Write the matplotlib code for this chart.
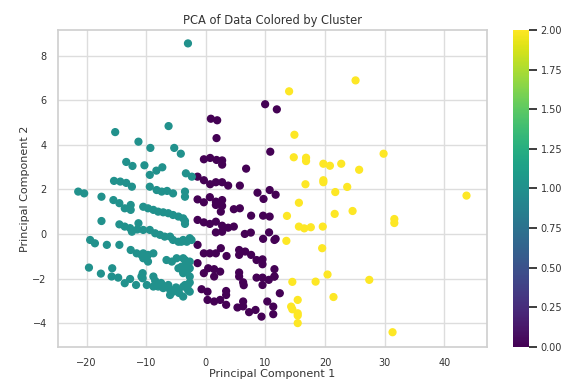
import numpy as np
import matplotlib
matplotlib.use("Agg")
import matplotlib.pyplot as plt
import seaborn as sns

# cluster 1 (teal)
teal_x = [-3.0, -15.2, -6.25, -11.3, -9.3, -5.3, -4.2, -13.35, -12.3, -10.3, -7.3, -8.3, -9.4, -3.35, -2.35,
          -15.4, -14.35, -13.35, -12.4, -9.4, -8.25, -7.4, -6.5, -5.5, -3.5, -3.5,
          -21.4, -20.4, -17.5, -15.5, -14.5, -13.6, -12.6, -12.6,
          -10.5, -9.7, -8.8, -8.0, -7.15, -6.3, -5.5, -4.6, -3.8, -3.5, -3.5,
          -17.5, -14.5, -13.6, -12.7, -12.4, -11.3, -11.5, -10.5, -9.4, -8.5, -7.7, -6.9, -6.0, -5.5, -4.6, -3.8, -2.7, -4.1, -3.2, -2.4,
          -19.4, -18.6, -16.6, -14.5,
          -12.6, -11.6, -10.8, -9.9, -10.5, -9.7, -8.8, -10.5, -9.7, -6.6, -5.7, -4.9, -3.8, -3.2, -4.1, -4.6, -3.8, -3.0, -2.7,
          -3.5, -2.7, -3.5, -2.7, -3.8,
          -19.6, -17.6, -15.7, -15.8, -14.7, -13.6, -12.7, -11.7, -10.6, -10.6,
          -10.8, -8.8, -9.9, -8.8, -8.0, -7.15, -6.3, -6.0, -5.5, -4.6, -3.8, -3.0, -2.7, -6.0,
          -2.7, -3.5, -3.0, -3.8, -4.5, -5.0, -7.5, -8.5]
teal_y = [8.55, 4.57, 4.84, 4.14, 3.86, 3.86, 3.6, 3.23, 3.05, 3.08, 2.99, 2.84, 2.65, 2.72, 2.57,
          2.38, 2.35, 2.29, 2.12, 2.12, 1.97, 1.9, 1.93, 1.82, 1.9, 1.67,
          1.9, 1.82, 1.67, 1.52, 1.38, 1.15, 1.3, 1.08,
          1.22, 1.15, 1.08, 1.0, 0.97, 0.93, 0.85, 0.78, 0.7, 0.58, 0.45,
          0.58, 0.43, 0.33, 0.26, 0.1, 0.48, 0.2, 0.18, 0.18, 0.03, -0.04, -0.12, -0.12, -0.27, -0.35, -0.27, -0.19, -0.35, -0.35, -0.27,
          -0.27, -0.42, -0.49, -0.49,
          -0.72, -0.87, -0.94, -1.02, -0.87, -0.94, -0.87, -1.09, -1.24, -1.17, -1.24, -1.09, -1.09, -1.39, -1.47, -1.54, -1.69, -1.61, -1.91,
          -1.17, -1.24, -1.47, -1.54, -1.76,
          -1.51, -1.78, -1.54, -1.91, -1.96, -2.21, -2.02, -2.29, -1.99, -1.76,
          -1.91, -1.91, -2.29, -2.36, -2.36, -2.43, -2.29, -2.51, -2.59, -2.51, -2.36, -2.29, -2.59, -2.74,
          -2.18, -2.29, -2.51, -2.81, -2.65, -2.4, -2.2, -2.1]

# cluster 0 (purple)
purple_x = [9.94, 11.9, 0.84, 1.9, 1.79, 10.8,
            -0.33, 0.72, 1.79, 2.73, 2.73, 6.75,
            -1.4, -0.33, 0.72, 1.68, 2.73, 3.74, 5.7,
            8.66, 10.7, 11.7, 9.67,
            -1.39, -0.34, 0.67, 1.68, 1.68, 2.73, 2.73, 2.51, 4.69, 5.7, 7.59, 9.6, 10.7,
            -1.39, -0.34, 0.67, 1.68, 2.73, 3.74, 4.69, 1.68, 2.73, 6.53, 7.54, 9.6, 10.6, 11.7,
            -1.39, -0.34, 0.67, 1.68, 2.51, 3.47, 5.58, 5.58, 6.6, 7.59, 8.5, 9.5, 9.5, 11.5, 11.5,
            -1.39, -0.34, 0.39, 1.39, 1.39, 2.4, 5.58, 5.58, 6.25, 6.35, 8.5, 9.5, 9.5, 10.55, 11.5, 11.5,
            12.4, -0.72, 0.28, 3.4, 3.4, 0.28, 1.39, 2.4, 3.4, 5.3, 6.25, 6.25,
            7.25, 8.33, 9.33, 10.3, 11.3, 11.3]
purple_y = [5.82, 5.59, 5.17, 5.1, 4.3, 3.69,
            3.35, 3.41, 3.32, 3.3, 3.11, 2.93,
            2.57, 2.41, 2.23, 2.32, 2.32, 2.17, 2.17,
            1.85, 1.97, 1.76, 1.57,
            1.55, 1.42, 1.65, 1.45, 1.3, 1.52, 1.26, 1.0, 1.11, 1.15, 0.82, 0.82, 0.78,
            0.63, 0.52, 0.45, 0.55, 0.37, 0.28, 0.33, 0.07, 0.1, 0.0, 0.06, -0.22, 0.07, -0.22,
            -0.49, -0.87, -0.87, -0.87, -0.64, -0.99, -0.72, -0.94, -0.79, -0.94, -1.17, -1.14, -1.36, -0.27, -1.58,
            -1.31, -1.76, -1.54, -1.58, -1.91, -1.69, -1.73, -1.91, -2.17, -2.3, -1.96, -1.96, -2.29, -2.06, -1.91, -1.91,
            -2.66, -2.48, -2.59, -2.56, -2.74, -2.96, -3.03, -2.96, -3.18, -3.3, -3.03, -3.25,
            -3.51, -3.41, -3.71, -3.03, -3.26, -3.6]

# cluster 2 (yellow)
yellow_x = [25.1, 13.96, 14.85, 14.74, 16.8, 16.8, 19.7, 20.8, 22.7, 25.7, 29.8,
            16.7, 19.7, 19.7, 23.7, 21.7, 43.7, 15.6, 13.6, 21.6, 24.6,
            15.6, 16.5, 17.6, 19.6, 31.6, 31.6, 13.5, 19.5, 20.4,
            14.5, 18.4, 27.4, 15.4, 21.4, 14.3, 14.5, 15.4, 15.4, 15.4, 31.3]
yellow_y = [6.89, 6.4, 4.45, 3.44, 3.42, 3.27, 3.15, 3.06, 3.15, 2.88, 3.6,
            2.23, 2.41, 2.32, 2.11, 1.88, 1.72, 1.4, 0.81, 0.9, 1.03,
            0.33, 0.25, 0.3, 0.33, 0.67, 0.49, -0.31, -0.64, -1.82,
            -2.15, -2.14, -2.06, -2.96, -2.83, -3.26, -3.38, -3.56, -3.66, -4.0, -4.41]

pc1 = np.array(purple_x + teal_x + yellow_x)
pc2 = np.array(purple_y + teal_y + yellow_y)
labels = np.array([0] * len(purple_x) + [1] * len(teal_x) + [2] * len(yellow_x))

sns.set_theme(style="whitegrid", rc={"grid.color": "#dddddd", "axes.edgecolor": "#d0d0d0"})
fig = plt.figure(figsize=(5.68, 3.8), dpi=100)
ax = fig.add_axes([0.102, 0.087, 0.755, 0.834])
cax = fig.add_axes([0.903, 0.087, 0.029, 0.834])

sc = ax.scatter(pc1, pc2, c=labels, cmap="viridis", s=24)
ax.set_xlim(-24.8, 47.1)
ax.set_ylim(-5.07, 9.15)
ax.set_xticks([-20, -10, 0, 10, 20, 30, 40])
ax.set_yticks([-4, -2, 0, 2, 4, 6, 8])
ax.tick_params(labelsize=7, pad=2, labelcolor="#333333")
ax.set_title("PCA of Data Colored by Cluster", fontsize=8.3, pad=4, color="#333333")
ax.set_xlabel("Principal Component 1", fontsize=8, labelpad=1, color="#333333")
ax.set_ylabel("Principal Component 2", fontsize=8, labelpad=2, color="#333333")

cb = fig.colorbar(sc, cax=cax)
cb.set_ticks([0, 0.25, 0.5, 0.75, 1.0, 1.25, 1.5, 1.75, 2.0])
cb.minorticks_off()
cax.grid(False)
cax.set_axisbelow(False)
for t in cax.yaxis.get_major_ticks():
    t.tick2line.set_visible(True)
    t.tick2line.set_markersize(4)
    t.tick2line.set_markeredgewidth(1.0)
    t.tick2line.set_color("#333333")
    t.tick2line.set_zorder(5)
cax.tick_params(axis="y", labelsize=7, labelcolor="#333333", pad=2)
cb.outline.set_visible(False)

fig.savefig("out.png", dpi=100)
